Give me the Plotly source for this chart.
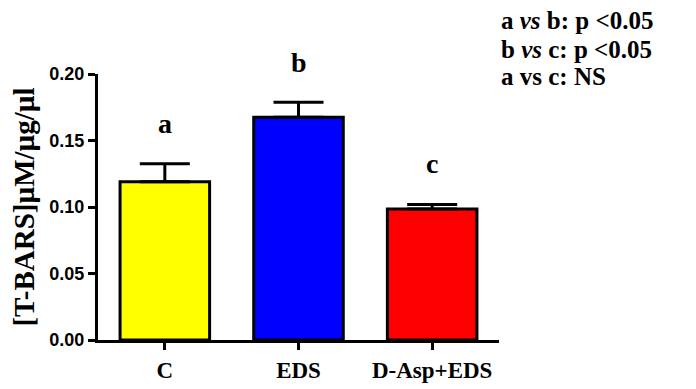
import plotly.graph_objects as go

categories = ["C", "EDS", "D-Asp+EDS"]
values = [0.119, 0.1675, 0.0985]
errors = [0.0135, 0.0112, 0.0033]
colors = ["#ffff00", "#0000ff", "#ff0000"]
letters = ["a", "b", "c"]
letter_y = [0.163, 0.209, 0.133]
stats_lines = ["a <i>vs</i> b: p <0.05", "b <i>vs</i> c: p <0.05", "a vs c: NS"]
ytick_vals = [0, 0.05, 0.1, 0.15, 0.2]
ytick_text = ["0.00", "0.05", "0.10", "0.15", "0.20"]

W, H = 696, 389
OFF = 8  # page body margin
ml, mt = 98 - OFF, 74 - OFF
pw, ph = 401, 266
mr, mb = W - ml - pw, H - mt - ph
YMAX = 0.2

fig = go.Figure()
fig.add_trace(go.Bar(
    x=categories, y=values, width=0.67,
    marker=dict(color=colors, line=dict(color="black", width=3)),
    error_y=dict(type="data", symmetric=False, array=errors, arrayminus=[0] * 3,
                 color="black", thickness=3, width=25),
    showlegend=False,
))

for i, (lt, ly) in enumerate(zip(letters, letter_y)):
    fig.add_annotation(x=i, y=ly / YMAX, xref="x", yref="paper", text=f"<b>{lt}</b>",
                       showarrow=False, yanchor="middle",
                       font=dict(family="Liberation Serif", size=28, color="black"))

for i, line in enumerate(stats_lines):
    px, py = 499 - OFF, 21 + 28 * i - OFF
    fig.add_annotation(x=(px - ml) / pw, y=1 - (py - mt) / ph, xref="paper", yref="paper",
                       text=f"<b>{line}</b>", showarrow=False, xanchor="left", yanchor="middle",
                       font=dict(family="Liberation Serif", size=25, color="black"))

fig.update_layout(
    width=W, height=H,
    margin=dict(l=ml, r=mr, t=mt, b=mb),
    plot_bgcolor="white", paper_bgcolor="white",
    xaxis=dict(range=[-0.5, 2.5], showline=True, linecolor="black", linewidth=3,
               ticks="outside", ticklen=7, tickwidth=2.5, tickcolor="black",
               tickvals=categories, ticktext=[f"<b>{c}</b>" for c in categories],
               tickfont=dict(family="Liberation Serif", size=23, color="black"),
               showgrid=False, zeroline=False, fixedrange=True),
    yaxis=dict(range=[0, YMAX], showline=True, linecolor="black", linewidth=3,
               ticks="outside", ticklen=7, tickwidth=2.5, tickcolor="black",
               tickvals=ytick_vals, ticktext=[f"<b>{t}</b>" for t in ytick_text],
               tickfont=dict(family="Liberation Sans", size=18, color="black"),
               title=dict(text="<b>[T-BARS]µM/µg/µl</b>", standoff=8,
                          font=dict(family="Liberation Serif", size=29, color="black")),
               showgrid=False, zeroline=False, fixedrange=True),
)
fig.write_html("out.html")
